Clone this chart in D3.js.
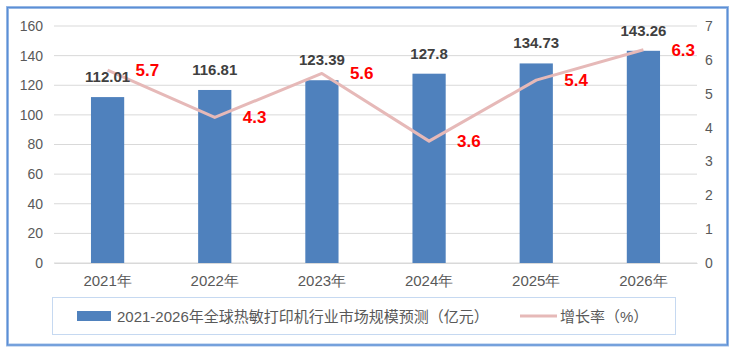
<!DOCTYPE html>
<html><head><meta charset="utf-8">
<script src="https://cdn.jsdelivr.net/npm/d3@7/dist/d3.min.js"></script>
<style>
body{margin:0;background:#fff;}
svg{display:block;font-family:"Liberation Sans","Noto Sans CJK SC",sans-serif;}
</style></head><body>
<svg id="c" width="739" height="355"></svg>
<script>
const categories = ["2021年","2022年","2023年","2024年","2025年","2026年"];
const marketSize = [112.01,116.81,123.39,127.8,134.73,143.26];
const growthRate = [5.7,4.3,5.6,3.6,5.4,6.3];
const leftTicks = [0,20,40,60,80,100,120,140,160];
const rightTicks = [0,1,2,3,4,5,6,7];
const seriesNames = ["2021-2026年全球热敏打印机行业市场规模预测（亿元）","增长率（%）"];

const svg = d3.select("#c");
// outer frame
svg.append("rect").attr("x",7.5).attr("y",7.5).attr("width",720).attr("height",337.5)
  .attr("fill","#fff").attr("stroke","#9dbce6").attr("stroke-width",3);
svg.append("rect").attr("x",7.5).attr("y",7.5).attr("width",720).attr("height",337.5)
  .attr("fill","none").attr("stroke","#5b8fd6").attr("stroke-width",1.2);

const L=54, R=697, T=26, B=263;
const x = d3.scaleBand().domain(categories).range([L,R]).paddingInner(0.69).paddingOuter(0.345);
const y = d3.scaleLinear().domain([0,160]).range([B,T]);
const y2 = d3.scaleLinear().domain([0,7]).range([B,T]);

// gridlines
svg.append("g").selectAll("line").data(leftTicks).join("line")
  .attr("x1",L).attr("x2",R).attr("y1",d=>y(d)).attr("y2",d=>y(d))
  .attr("stroke","#d9d9d9").attr("stroke-width",1);

// left axis
const ga = svg.append("g").attr("transform",`translate(${L},0)`)
  .call(d3.axisLeft(y).tickValues(leftTicks).tickSize(0).tickPadding(11));
ga.select(".domain").remove();
ga.selectAll("text").attr("fill","#595959").style("font-size","14px");

// right axis
const gr = svg.append("g").attr("transform",`translate(${R},0)`)
  .call(d3.axisRight(y2).tickValues(rightTicks).tickFormat(d3.format("d")).tickSize(0).tickPadding(8));
gr.select(".domain").remove();
gr.selectAll("text").attr("fill","#595959").style("font-size","14px");

// x axis labels
const gx = svg.append("g").attr("transform",`translate(0,${B})`)
  .call(d3.axisBottom(x).tickSize(0).tickPadding(12));
gx.select(".domain").attr("stroke","#d9d9d9");
gx.selectAll("text").attr("fill","#595959").style("font-size","15px");

// bars
svg.append("g").selectAll("rect").data(marketSize).join("rect")
  .attr("x",(d,i)=>x(categories[i])).attr("width",x.bandwidth())
  .attr("y",d=>y(d)).attr("height",d=>B-y(d)).attr("fill","#4f81bd");

// line
const cx = i => x(categories[i])+x.bandwidth()/2;
svg.append("path").datum(growthRate)
  .attr("d",d3.line().x((d,i)=>cx(i)).y(d=>y2(d)))
  .attr("fill","none").attr("stroke","#e6b9b8").attr("stroke-width",3).attr("stroke-linejoin","round");

// bar labels
svg.append("g").selectAll("text").data(marketSize).join("text")
  .attr("x",(d,i)=>x(categories[i])+x.bandwidth()/2).attr("y",d=>y(d)-15)
  .attr("text-anchor","middle").attr("fill","#404040")
  .style("font-size","15px").style("font-weight","bold").text(d=>d);

svg.append("g").selectAll("text").data(growthRate).join("text")
  .attr("x",(d,i)=>cx(i)+28).attr("y",d=>y2(d)+6)
  .attr("fill","#ff0000").style("font-size","17px").style("font-weight","bold")
  .text(d=>d.toFixed(1));

// legend
svg.append("rect").attr("x",52.5).attr("y",297.5).attr("width",623).attr("height",37)
  .attr("fill","#fff").attr("stroke","#c6d9f1").attr("stroke-width",1);
svg.append("rect").attr("x",77).attr("y",311).attr("width",34).attr("height",10).attr("fill","#4f81bd");
svg.append("text").attr("x",117).attr("y",321.5).attr("fill","#595959").style("font-size","15px").text(seriesNames[0]);
svg.append("line").attr("x1",520).attr("x2",557).attr("y1",316).attr("y2",316)
  .attr("stroke","#e6b9b8").attr("stroke-width",3);
svg.append("text").attr("x",560).attr("y",321.5).attr("fill","#595959").style("font-size","15px").text(seriesNames[1]);
</script>
</body></html>
